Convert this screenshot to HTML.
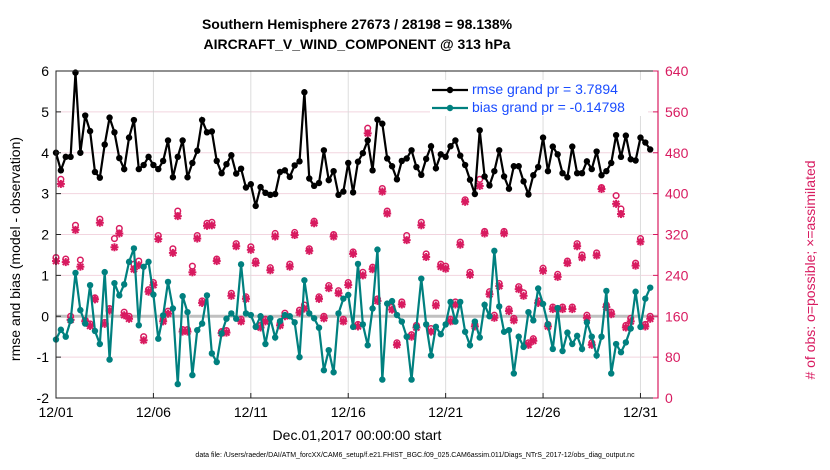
<!DOCTYPE html>
<html><head><meta charset="utf-8"><style>
body{margin:0;background:#fff;}
svg{display:block;font-family:"Liberation Sans",sans-serif;}
</style></head><body>
<svg id="chart" width="830" height="470"></svg>
<script>
const rmse=[4.0,3.57,3.9,3.9,5.96,4.0,4.91,4.53,3.53,3.39,4.2,4.86,4.5,3.87,3.6,4.37,4.8,3.6,3.7,3.9,3.7,3.6,3.8,4.3,3.4,3.9,4.3,3.4,3.75,4.05,4.8,4.5,
4.52,3.8,3.5,3.72,3.94,3.49,3.61,3.15,3.23,2.7,3.16,3.02,2.97,2.99,3.53,3.57,3.41,3.69,3.79,5.48,3.37,3.19,3.26,4.06,3.33,3.55,2.97,3.05,3.75,3.03,3.78,
3.99,4.3,3.57,4.81,4.71,3.86,3.67,3.35,3.8,3.86,4.06,3.65,3.46,3.85,4.16,3.62,3.96,3.9,4.16,4.3,3.93,3.7,3.34,2.99,4.55,3.42,3.2,3.55,4.06,3.42,3.12,
3.67,3.67,3.3,2.98,3.45,3.65,4.37,3.55,4.15,3.96,3.5,3.4,4.15,3.5,3.5,3.79,3.6,4.03,3.45,3.55,3.75,4.43,3.9,4.42,3.84,3.81,4.37,4.25,4.08];
const bias=[-0.57,-0.33,-0.5,-0.11,1.06,0.15,-0.18,0.76,-0.36,-0.68,1.08,-1.06,0.81,0.51,0.78,1.33,1.66,-0.22,1.21,1.33,0.53,-0.55,0.02,0.84,0.19,-1.66,0.49,0.1,-1.44,-0.34,-0.18,0.51,
-0.91,-1.12,-0.42,-0.06,0.07,-0.06,1.27,0.07,0.03,-0.26,0,-0.68,-0.05,-0.52,-0.12,0.03,0,-0.15,-1.0,0.88,0.07,-0.05,-0.28,-1.32,-0.83,-1.37,0.07,0.43,0.52,-0.26,1.28,
-0.2,-0.71,0.19,1.63,-1.55,0.31,0.37,0.03,-0.13,-0.5,-1.55,-0.26,0.92,-0.2,-0.96,-0.26,-0.44,-0.2,0.35,-0.13,0.35,-0.38,-0.71,-0.13,-0.52,0.28,0.0,1.6,0.24,-0.38,-0.34,
-1.4,-0.5,-0.75,0.1,-0.1,0.68,0.3,-0.2,-0.8,0.2,-0.85,-0.4,-0.68,-0.48,-0.8,-0.15,-0.5,-0.96,-0.5,0.62,-1.4,-0.68,-0.88,-0.64,-0.3,0.6,-0.26,0.43,0.7];
const assimilated=[268,419,266,153,329,257,150,141,193,343,145,171,295,322,162,155,252,260,113,208,221,311,150,165,284,356,130,130,246,312,186,337,
338,268,127,128,200,297,150,194,290,264,138,150,250,316,142,160,257,319,167,175,288,342,194,156,215,316,205,150,221,282,140,
240,518,252,190,404,361,173,104,183,309,120,138,338,276,130,181,257,253,150,183,300,384,241,140,415,322,203,157,219,322,170,
152,213,200,104,112,186,249,140,174,237,174,264,174,297,275,157,104,279,409,178,164,380,360,138,150,259,306,140,155];
const possible=[275,428,272,160,338,270,152,145,196,350,148,175,312,332,168,160,262,268,120,212,226,318,154,170,292,366,134,134,258,318,190,342,
344,272,130,132,205,302,154,198,296,268,142,154,255,322,146,166,262,324,172,182,292,346,198,160,220,320,210,154,226,286,144,
246,528,256,194,410,366,178,108,188,318,124,142,344,282,136,186,262,258,154,188,305,388,246,144,428,326,208,162,224,326,174,
156,218,206,108,116,190,254,144,178,242,178,268,178,302,280,162,108,284,412,182,168,396,370,142,156,264,312,144,160];
const xTickLabels=["12/01","12/06","12/11","12/16","12/21","12/26","12/31"];
const xTickDays=[0,5,10,15,20,25,30];
const yTicks=[-2,-1,0,1,2,3,4,5,6];
const yRightTicks=[0,80,160,240,320,400,480,560,640];

const L=56,R=658,T=71,B=398;
const X=d=>L+d*(R-L)/30.9;
const Y=v=>B-(v+2)*(B-T)/8;
const YR=c=>B-c*(B-T)/640;
const NS="http://www.w3.org/2000/svg";
const svg=document.getElementById('chart');
function mk(tag,attrs,parent){const e=document.createElementNS(NS,tag);for(const k in attrs)e.setAttribute(k,attrs[k]);(parent||svg).appendChild(e);return e;}
const PINK="#d81b60",TEAL="#00807f";

const grid=mk('g',{});


yTicks.forEach(v=>mk('line',{x1:L,x2:R,y1:Y(v),y2:Y(v),stroke:'#f2d5df','stroke-width':1},grid));
xTickDays.forEach(d=>mk('line',{x1:X(d),x2:X(d),y1:T,y2:B,stroke:'#dcdcdc','stroke-width':1},grid));
mk('line',{x1:L,x2:R,y1:Y(0),y2:Y(0),stroke:'#c0c0c0','stroke-width':3},grid);

const obsG=mk('g',{});


possible.forEach((c,i)=>{
  const el=mk('circle',{cx:X(i*0.25),cy:YR(c),r:2.8,fill:'none',stroke:PINK,'stroke-width':1.5},obsG);
  
  
});
assimilated.forEach((c,i)=>{
  const x=X(i*0.25),y=YR(c);
  const g=mk('g',{stroke:PINK,'stroke-width':2},obsG);
  
  
  mk('line',{x1:x-4,x2:x+4,y1:y,y2:y},g);
  mk('line',{x1:x,x2:x,y1:y-4,y2:y+4},g);
  mk('line',{x1:x-3,x2:x+3,y1:y-3,y2:y+3},g);
  mk('line',{x1:x-3,x2:x+3,y1:y+3,y2:y-3},g);
});

function series(arr,color,name){
  const g=mk('g',{});
  
  
  mk('polyline',{points:arr.map((v,i)=>X(i*0.25)+','+Y(v)).join(' '),fill:'none',stroke:color,'stroke-width':2.2},g);
  arr.forEach((v,i)=>{
    const c=mk('circle',{cx:X(i*0.25),cy:Y(v),r:3.2,fill:color},g);
    
    
  });
}
series(bias,TEAL,'bias-series');
series(rmse,'#000','rmse-series');

mk('rect',{x:L,y:T,width:R-L,height:B-T,fill:'none',stroke:'#222','stroke-width':1});
mk('line',{x1:R,x2:R,y1:T,y2:B,stroke:PINK,'stroke-width':1.2});
const ax=mk('g',{'font-size':14,fill:'#000'});


yTicks.forEach(v=>{
  mk('line',{x1:L,x2:L+5,y1:Y(v),y2:Y(v),stroke:'#222'},ax);
  const t=mk('text',{x:L-7,y:Y(v)+5,'text-anchor':'end'},ax);t.textContent=v;
});
yRightTicks.forEach(c=>{
  mk('line',{x1:R-5,x2:R,y1:YR(c),y2:YR(c),stroke:PINK},ax);
  const t=mk('text',{x:R+7,y:YR(c)+5,fill:PINK},ax);t.textContent=c;
});
xTickDays.forEach((d,i)=>{
  mk('line',{x1:X(d),x2:X(d),y1:B-5,y2:B,stroke:'#222'},ax);
  const t=mk('text',{x:X(d),y:B+19,'text-anchor':'middle'},ax);t.textContent=xTickLabels[i];
});
</script>
<div style="position:absolute;left:0;top:0;width:830px;height:470px;pointer-events:none;font-family:'Liberation Sans',sans-serif;">
<div style="position:absolute;left:157px;width:400px;top:14px;text-align:center;font-weight:bold;font-size:14px;line-height:20px;">Southern Hemisphere 27673 / 28198 = 98.138%<br>AIRCRAFT_V_WIND_COMPONENT @ 313 hPa</div>
<div style="position:absolute;left:157px;width:400px;top:427px;text-align:center;font-size:14px;">Dec.01,2017 00:00:00 start</div>
<div style="position:absolute;left:-135px;top:241px;width:300px;text-align:center;font-size:14px;transform:rotate(-90deg);">rmse and bias (model - observation)</div>
<div style="position:absolute;left:660px;top:262px;width:300px;text-align:center;font-size:14px;color:#d81b60;transform:rotate(-90deg);"># of obs: o=possible; ×=assimilated</div>
<div style="position:absolute;left:100px;width:630px;top:452px;text-align:center;font-size:7px;">data file: /Users/raeder/DAI/ATM_forcXX/CAM6_setup/f.e21.FHIST_BGC.f09_025.CAM6assim.011/Diags_NTrS_2017-12/obs_diag_output.nc</div>
<div style="position:absolute;left:430px;top:80px;width:218px;height:36px;background:#fff;font-size:14px;color:#1a4cff;">
 <div style="position:absolute;left:2px;top:1px;">
  <svg width="36" height="14" style="position:absolute;left:0;top:2px"><line x1="0" y1="7" x2="36" y2="7" stroke="#000" stroke-width="2.2"/><circle cx="18" cy="7" r="3.2" fill="#000"/></svg>
  <span style="position:absolute;left:40px;white-space:nowrap;">rmse grand pr = 3.7894</span></div>
 <div style="position:absolute;left:2px;top:19px;">
  <svg width="36" height="14" style="position:absolute;left:0;top:2px"><line x1="0" y1="7" x2="36" y2="7" stroke="#00807f" stroke-width="2.2"/><circle cx="18" cy="7" r="3.2" fill="#00807f"/></svg>
  <span style="position:absolute;left:40px;white-space:nowrap;">bias grand pr = -0.14798</span></div>
</div>
</div>
</body></html>
